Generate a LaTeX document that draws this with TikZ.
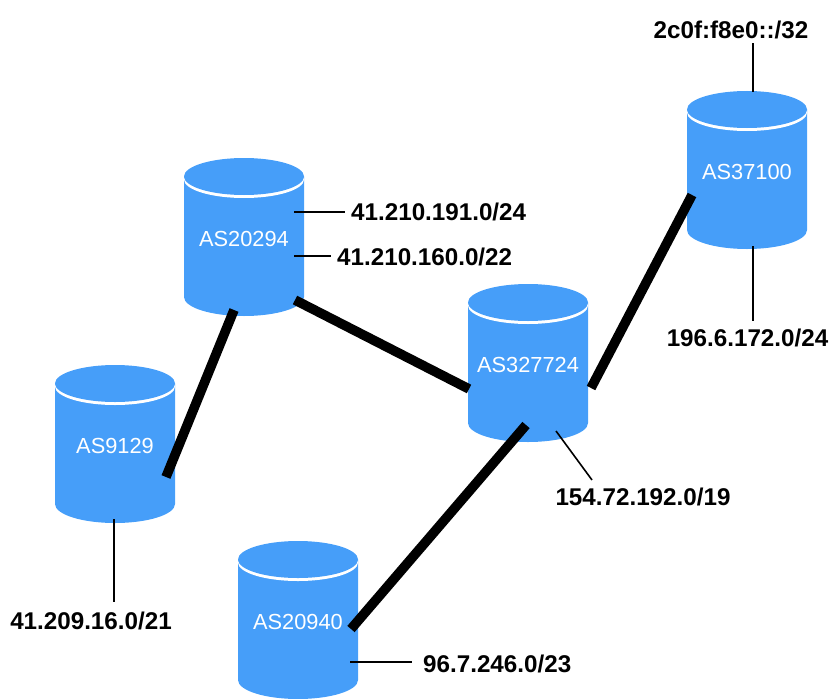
\documentclass[tikz,border=0pt]{standalone}
\usepackage{fontspec}
\setmainfont{Liberation Sans}
\definecolor{cylblue}{HTML}{469EF9}
\tikzset{
  aslabel/.style={text=white,inner sep=0pt,font=\fontsize{21.8}{24}\selectfont},
  netlabel/.style={text=black,inner sep=0pt,font=\bfseries\fontsize{24.2}{28}\selectfont},
  thinlink/.style={draw=black,line width=1.6pt},
  thicklink/.style={draw=black,line width=9.6pt},
}
% #1 name, #2 left x, #3 top y, #4 text
\newcommand{\dbcyl}[4]{%
  \fill[cylblue] (#2,#3+18.5) -- (#2,#3+139) arc[start angle=180,end angle=0,x radius=60,y radius=19] -- (#2+120,#3+18.5) -- cycle;
  \fill[white] (#2+60,#3+21.5) ellipse[x radius=60,y radius=18.5];
  \fill[cylblue] (#2+60,#3+18.5) ellipse[x radius=60,y radius=18.5];
  \node[aslabel] (#1) at (#2+60,#3+80.5) {#4};
}
\begin{document}
\begin{tikzpicture}[x=1pt,y=-1pt]
\useasboundingbox (0,0) rectangle (834,698);
\begin{scope}
\clip (0,0) rectangle (834,698);
\dbcyl{as37100}{687}{91}{AS37100}
\dbcyl{as20294}{184}{158}{AS20294}
\dbcyl{as327724}{468}{284}{AS327724}
\dbcyl{as9129}{55}{365}{AS9129}
\dbcyl{as20940}{238}{541}{AS20940}
\end{scope}
% network labels
\node[netlabel,anchor=west] (p191) at (351,212) {41.210.191.0/24};
\node[netlabel,anchor=west] (p160) at (337,257) {41.210.160.0/22};
\node[netlabel] (p2c0f) at (731,30) {2c0f:f8e0::/32};
\node[netlabel] (p196) at (747.5,338) {196.6.172.0/24};
\node[netlabel] (p154) at (643,497) {154.72.192.0/19};
\node[netlabel] (p41209) at (91,621) {41.209.16.0/21};
\node[netlabel,anchor=west] (p96) at (423,664) {96.7.246.0/23};
% connector end points
\coordinate (a1) at (294,212); \coordinate (a1e) at (345,212);
\coordinate (a2) at (294,256); \coordinate (a2e) at (331,256);
\coordinate (b1) at (753,92);  \coordinate (b1e) at (753,43);
\coordinate (b2) at (753,246); \coordinate (b2e) at (753,321);
\coordinate (c1) at (556,431); \coordinate (c1e) at (592,480);
\coordinate (d1) at (114,519); \coordinate (d1e) at (114,602);
\coordinate (e1) at (350,662); \coordinate (e1e) at (412,662);
\draw[thinlink] (a1) -- (a1e);
\draw[thinlink] (a2) -- (a2e);
\draw[thinlink] (b1) -- (b1e);
\draw[thinlink] (b2) -- (b2e);
\draw[thinlink] (c1) -- (c1e);
\draw[thinlink] (d1) -- (d1e);
\draw[thinlink] (e1) -- (e1e);
% peering links
\coordinate (l1a) at (234,310); \coordinate (l1b) at (166,477);
\coordinate (l2a) at (295,300); \coordinate (l2b) at (469,389);
\coordinate (l3a) at (692,195); \coordinate (l3b) at (591,388);
\coordinate (l4a) at (526,425); \coordinate (l4b) at (351,629);
\draw[thicklink] (l1a) -- (l1b);
\draw[thicklink] (l2a) -- (l2b);
\draw[thicklink] (l3a) -- (l3b);
\draw[thicklink] (l4a) -- (l4b);
\end{tikzpicture}
\end{document}
